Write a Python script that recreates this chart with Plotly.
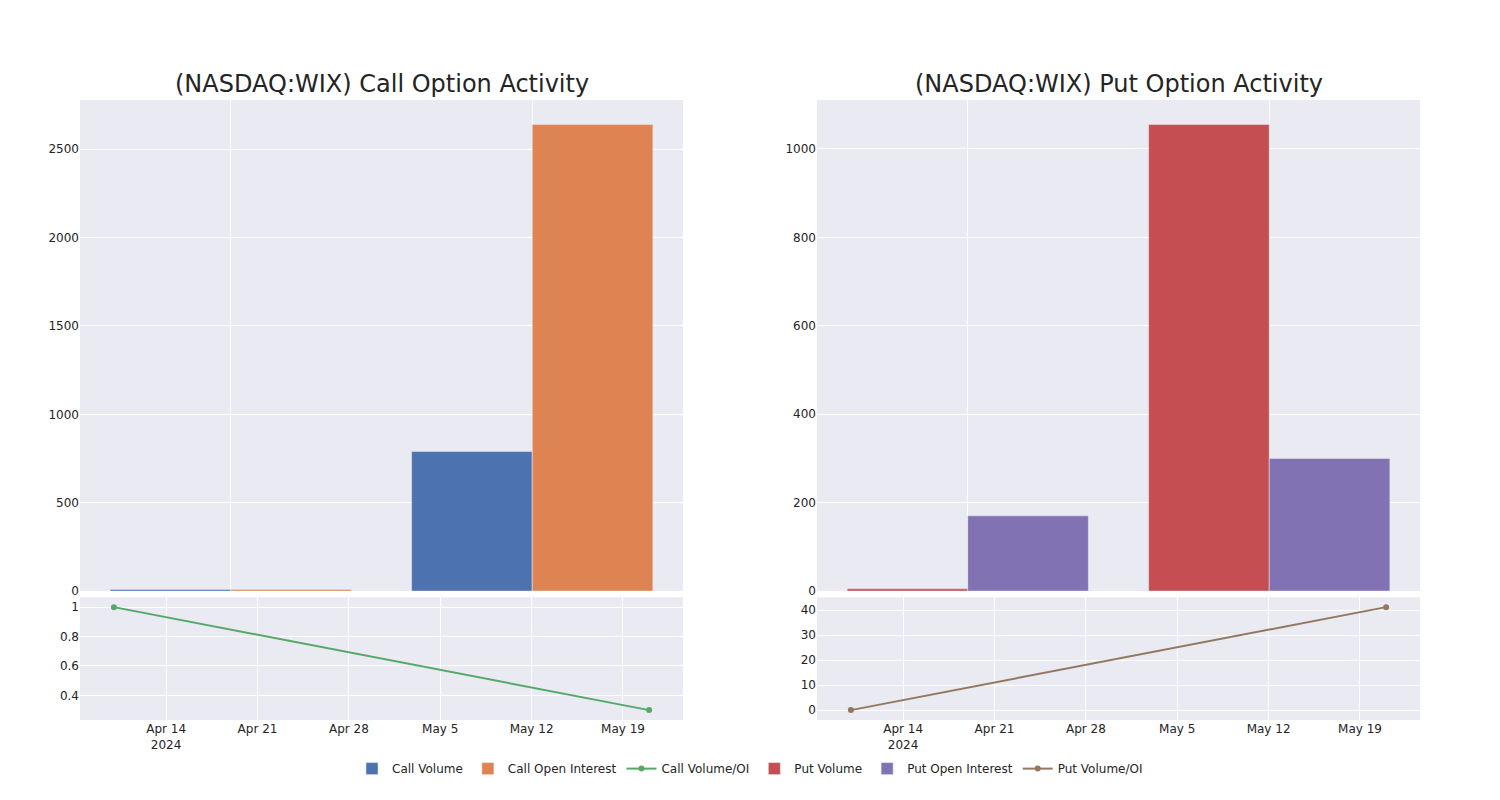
import plotly.graph_objects as go
from plotly.subplots import make_subplots

dates = ["2024-04-10", "2024-05-21"]
call_volume = [9, 790]
call_oi = [9, 2640]
call_ratio = [1.0, 0.3]
put_volume = [5, 1055]
put_oi = [170, 300]
put_ratio = [0.0, 41.2]

fig = make_subplots(
    rows=2, cols=2,
    row_heights=[0.8, 0.2],
    vertical_spacing=0.01,
    horizontal_spacing=0.1,
    subplot_titles=("(NASDAQ:WIX) Call Option Activity", "(NASDAQ:WIX) Put Option Activity", "", ""),
)

fig.add_trace(go.Bar(x=dates, y=call_volume, name="Call Volume", marker_color="#4C72B0"), row=1, col=1)
fig.add_trace(go.Bar(x=dates, y=call_oi, name="Call Open Interest", marker_color="#DD8452"), row=1, col=1)
fig.add_trace(go.Scatter(x=dates, y=call_ratio, name="Call Volume/OI", mode="lines+markers",
                         line=dict(color="#55A868")), row=2, col=1)
fig.add_trace(go.Bar(x=dates, y=put_volume, name="Put Volume", marker_color="#C44E52"), row=1, col=2)
fig.add_trace(go.Bar(x=dates, y=put_oi, name="Put Open Interest", marker_color="#8172B3"), row=1, col=2)
fig.add_trace(go.Scatter(x=dates, y=put_ratio, name="Put Volume/OI", mode="lines+markers",
                         line=dict(color="#937860")), row=2, col=2)

fig.update_xaxes(type="category", showticklabels=False, row=1, col=1)
fig.update_xaxes(type="category", showticklabels=False, row=1, col=2)
fig.update_xaxes(type="date", row=2, col=1)
fig.update_xaxes(type="date", row=2, col=2)

fig.update_annotations(font=dict(size=24, family="DejaVu Sans"))

fig.update_layout(
    template="seaborn",
    font=dict(family="DejaVu Sans"),
    width=1500, height=800,
    margin=dict(l=72, r=88, t=92, b=88),
    barmode="group",
    legend=dict(orientation="h", x=0.5, xanchor="center", y=-0.055, yanchor="top"),
)

fig.write_html("out.html")
